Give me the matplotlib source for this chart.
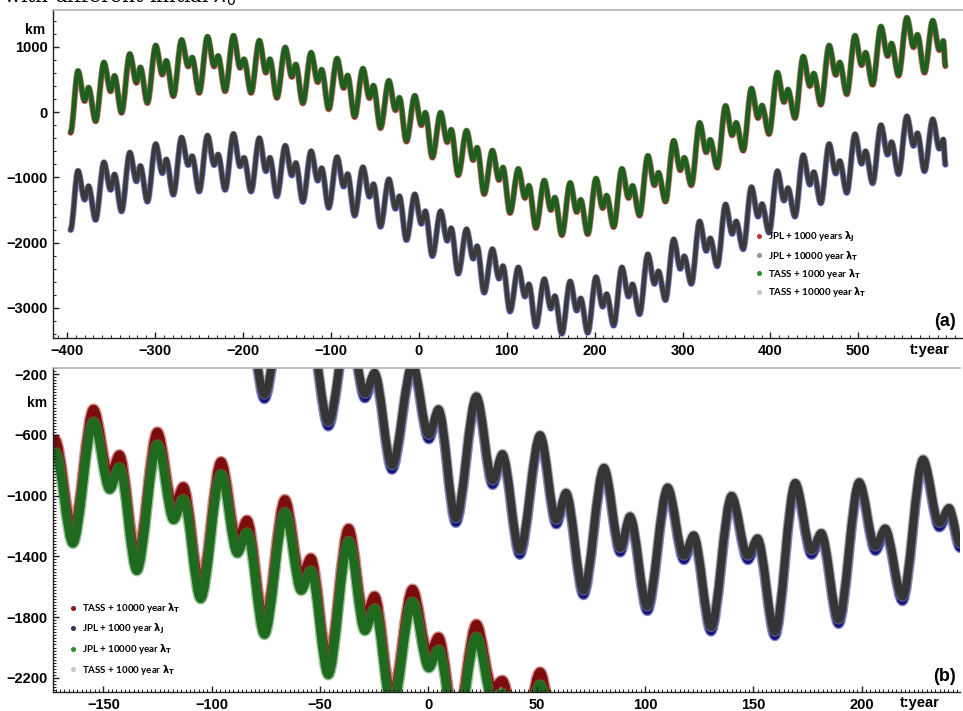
import numpy as np
import matplotlib.pyplot as plt
from matplotlib.lines import Line2D
from matplotlib.patches import PathPatch
from matplotlib.path import Path
from matplotlib.ticker import MultipleLocator

# Each ~29.5 yr cycle: main peak, shallow dip, small bump, deep low
# (years after the main peak)
phase_offsets = [0.0, 7.5, 12.0, 20.0]

# ---------------- panel (a): -400 .. 600 yr ----------------
top_peak_t = [-387.5, -358.0, -328.6, -299.1, -269.7, -240.2, -210.7, -181.3,
              -151.8, -122.4, -92.9, -63.5, -34.0, -4.5, 24.9, 54.4, 83.8,
              113.3, 142.8, 172.2, 201.7, 231.1, 260.6, 290.0, 319.5, 349.0,
              378.4, 407.9, 437.3, 466.8, 496.2, 525.7, 555.2, 584.6]

# TASS + 1000 yr (green band, the JPL run sits right under it)
a_green_peak = [640, 770, 900, 1030, 1115, 1165, 1180, 1105, 1000, 920, 830,
                675, 490, 260, 0, -275, -580, -860, -1040, -1075, -1010, -860,
                -660, -430, -155, 105, 370, 615, 860, 1030, 1180, 1320, 1455,
                1410]
a_green_dip = [185, 335, 465, 590, 715, 715, 695, 620, 555, 475, 385, 230, 45,
               -185, -445, -720, -1025, -1300, -1485, -1515, -1455, -1300,
               -1105, -875, -600, -340, -75, 170, 415, 585, 735, 875, 1010, 965]
a_green_bump = [385, 565, 695, 795, 845, 870, 820, 820, 740, 660, 570, 415, 230,
                0, -260, -535, -840, -1120, -1300, -1335, -1270, -1120, -920,
                -690, -415, -155, 110, 355, 600, 770, 920, 1060, 1195, 1100]
a_green_low = [-125, 5, 155, 260, 310, 335, 310, 235, 150, 60, -60, -230, -435,
               -680, -950, -1240, -1530, -1760, -1870, -1855, -1745, -1570,
               -1355, -1105, -835, -575, -320, -75, 130, 290, 435, 575, 620]
a_green_start = (-396, -300)
a_green_end = (599, 720)

# TASS + 10000 yr (grey band, JPL run in blue under it)
a_grey_peak = [-890, -760, -610, -480, -380, -350, -325, -390, -505, -590, -680,
               -835, -1020, -1250, -1510, -1785, -2090, -2370, -2550, -2585,
               -2520, -2370, -2170, -1940, -1665, -1405, -1140, -895, -650,
               -480, -330, -190, -55, -100]
a_grey_dip = [-1325, -1175, -1045, -920, -795, -795, -815, -890, -955, -1035,
              -1125, -1280, -1465, -1695, -1955, -2230, -2535, -2810, -2995,
              -3025, -2965, -2810, -2615, -2385, -2110, -1850, -1585, -1340,
              -1095, -925, -775, -635, -500, -545]
a_grey_bump = [-1125, -945, -815, -715, -665, -640, -690, -690, -770, -850,
               -940, -1095, -1280, -1510, -1770, -2045, -2350, -2630, -2810,
               -2845, -2780, -2630, -2430, -2200, -1925, -1665, -1400, -1155,
               -910, -740, -590, -450, -315, -410]
a_grey_low = [-1635, -1505, -1355, -1250, -1200, -1175, -1200, -1275, -1360,
              -1450, -1570, -1740, -1945, -2190, -2460, -2750, -3040, -3270,
              -3380, -3365, -3255, -3080, -2865, -2615, -2345, -2085, -1830,
              -1585, -1380, -1220, -1075, -935, -890]
a_grey_start = (-396, -1790)
a_grey_end = (599, -790)

# ---------------- panel (b): -170 .. 245 yr ----------------
bot_peak_t = [-154.6, -125.1, -95.7, -66.2, -36.8, -7.3, 22.2, 51.6, 81.1,
              110.5, 140.0, 169.4, 198.9, 228.4]

b_green_peak = [-515, -665, -860, -1110, -1300, -1700, -1930, -2245]
b_green_dip = [-960, -1160, -1380, -1625, -1890, -2135, -2350, -2700]
b_green_bump = [-815, -1025, -1245, -1495, -1745, -2015, -2300, -2600]
b_green_low = [-1495, -1680, -1915, -2180, -2410, -2600, -2800, -3100]
b_green_head = [(-172.3, -715), (-164.1, -1315)]

# grey band starts with the cycle peaking at -96 yr
b_grey_peak = [600, 350, 150, -130, -345, -600, -815, -945, -1000, -915, -910,
               -760]
b_grey_dip = [150, -40, -330, -600, -900, -1160, -1345, -1395, -1395, -1360,
              -1335, -1180]
b_grey_bump = [250, 60, -190, -430, -725, -980, -1135, -1260, -1280, -1245,
               -1215, -1080]
b_grey_low = [-335, -515, -800, -1150, -1360, -1625, -1730, -1865, -1895,
              -1815, -1665]
b_grey_end = (245.5, -1315)

# offsets of the companion runs (km)
a_jpl_shift = -14
b_red_gap = 85
b_blue_shift = -30


def build_trace(peak_t, peak, dip, bump, low, head=(), tail=()):
    t, y = [], []
    for p in head:
        t.append(p[0]); y.append(p[1])
    for k in range(len(peak)):
        vals = [peak[k], dip[k], bump[k], low[k] if k < len(low) else None]
        for off, v in zip(phase_offsets, vals):
            if v is None:
                continue
            t.append(peak_t[k] + off); y.append(v)
    for p in tail:
        t.append(p[0]); y.append(p[1])
    return np.array(t), np.array(y)


def smooth_path(t, y):
    # bezier segments with flat tangents at every turning point
    verts = [(t[0], y[0])]
    codes = [Path.MOVETO]
    for i in range(1, len(t)):
        dt = t[i] - t[i - 1]
        verts += [(t[i - 1] + dt / 3, y[i - 1]), (t[i] - dt / 3, y[i]),
                  (t[i], y[i])]
        codes += [Path.CURVE4] * 3
    return Path(verts, codes)


def band(ax, t, y, core, halo, lw):
    path = smooth_path(t, y)
    for c, w, a in ((halo, lw * 1.35, 0.55), (core, lw, 1.0)):
        ax.add_patch(PathPatch(path, fill=False, edgecolor=c, lw=w, alpha=a,
                               joinstyle='round', capstyle='round'))


plt.rcParams['font.family'] = ['Liberation Sans', 'DejaVu Sans']

fig = plt.figure(figsize=(9.63, 7.11), dpi=100)
ax1 = fig.add_axes([0.055, 0.5246, 0.945, 0.4614])
ax2 = fig.add_axes([0.055, 0.0267, 0.942, 0.4557])

# panel (a)
tg, yg = build_trace(top_peak_t, a_green_peak, a_green_dip, a_green_bump,
                     a_green_low, [a_green_start], [a_green_end])
tk, yk = build_trace(top_peak_t, a_grey_peak, a_grey_dip, a_grey_bump,
                     a_grey_low, [a_grey_start], [a_grey_end])
band(ax1, tg, yg + a_jpl_shift, '#7a1010', '#a03030', 3.4)
band(ax1, tg, yg, '#1d5f1d', '#3c8a3c', 2.8)
band(ax1, tk, yk + a_jpl_shift, '#1a1a80', '#3a3aa0', 3.4)
band(ax1, tk, yk, '#3a3a3a', '#808080', 2.8)

ax1.set_xlim(-416, 619)
ax1.set_ylim(-3460, 1567)
ax1.set_xticks(list(range(-400, 600, 100)))
ax1.xaxis.set_minor_locator(MultipleLocator(10))
ax1.yaxis.set_major_locator(MultipleLocator(1000))
ax1.yaxis.set_minor_locator(MultipleLocator(200))

# panel (b)
tg2, yg2 = build_trace(bot_peak_t, b_green_peak, b_green_dip, b_green_bump,
                       b_green_low, b_green_head)
tk2, yk2 = build_trace(bot_peak_t[2:], b_grey_peak, b_grey_dip, b_grey_bump,
                       b_grey_low, (), [b_grey_end])
band(ax2, tg2, yg2 + b_red_gap, '#7d0c0c', '#a83030', 6.0)
band(ax2, tg2, yg2, '#1e6a1e', '#3f8f3f', 6.0)
band(ax2, tk2, yk2 + b_blue_shift, '#141478', '#2a2a9a', 5.5)
band(ax2, tk2, yk2, '#353535', '#8a8a8a', 5.5)

ax2.set_xlim(-173.3, 245.5)
ax2.set_ylim(-2293, -160)
ax2.set_xticks(list(range(-150, 250, 50)))
ax2.xaxis.set_minor_locator(MultipleLocator(2))
ax2.set_yticks(list(range(-2200, 0, 400)))
ax2.yaxis.set_minor_locator(MultipleLocator(20))

for ax in (ax1, ax2):
    ax.spines['right'].set_visible(False)
    ax.spines['top'].set_color('#b4b4b4')
    ax.spines['top'].set_linewidth(1.2)
    for s in ('left', 'bottom'):
        ax.spines[s].set_color('#202020')
        ax.spines[s].set_linewidth(1.0)
    ax.tick_params(which='both', direction='in', top=False, right=False,
                   color='#202020')
    ax.tick_params(which='major', length=4.5, width=1.0, labelsize=10.5, pad=4)
    ax.tick_params(which='minor', length=2.0, width=0.7)
    for lab in ax.get_xticklabels() + ax.get_yticklabels():
        lab.set_fontweight('bold')

ax1.text(-0.02, 0.94, 'km', transform=ax1.transAxes, ha='center',
         va='center', fontsize=10, fontweight='bold')
ax2.text(-0.018, 0.892, 'km', transform=ax2.transAxes, ha='center',
         va='center', fontsize=10, fontweight='bold')
ax1.text(0.964, -0.037, 't:year', transform=ax1.transAxes, ha='center',
         va='center', fontsize=10.5, fontweight='bold')
ax2.text(0.956, -0.035, 't:year', transform=ax2.transAxes, ha='center',
         va='center', fontsize=10.5, fontweight='bold')
ax1.text(0.98, 0.05, '(a)', transform=ax1.transAxes, ha='center',
         va='center', fontsize=13, fontweight='bold')
ax2.text(0.983, 0.047, '(b)', transform=ax2.transAxes, ha='center',
         va='center', fontsize=13, fontweight='bold')

# clipped heading line above the panels
fig.text(0.003, 0.9885, r'with different initial $\lambda_0$',
         ha='left', va='bottom', fontsize=14.5, family='DejaVu Serif')


def marker(c):
    return Line2D([], [], ls='', marker='o', ms=2.6, color=c, mec=c)


lab_a = [r'JPL + 1000 years $\mathbf{\lambda_J}$',
         r'JPL + 10000 year $\mathbf{\lambda_T}$',
         r'TASS + 1000 year $\mathbf{\lambda_T}$',
         r'TASS + 10000 year $\mathbf{\lambda_T}$']
col_a = ['#c03838', '#8a9a8a', '#2e8b2e', '#c8c8c8']
lab_b = [r'TASS + 10000 year $\mathbf{\lambda_T}$',
         r'JPL + 1000 year $\mathbf{\lambda_J}$',
         r'JPL + 10000 year $\mathbf{\lambda_T}$',
         r'TASS + 1000 year $\mathbf{\lambda_T}$']
col_b = ['#8b1a1a', '#333355', '#2e8b2e', '#c8c8c8']

leg_kw = dict(frameon=False, loc='upper left', borderpad=0, handlelength=0.8,
              handletextpad=0.5, borderaxespad=0,
              prop=dict(family='Lato', weight='bold', size=7))
leg1 = ax1.legend([marker(c) for c in col_a], lab_a, labelspacing=0.45,
                  bbox_to_anchor=(0.772, 0.33), **leg_kw)
leg2 = ax2.legend([marker(c) for c in col_b], lab_b, labelspacing=0.65,
                  bbox_to_anchor=(0.018, 0.28), **leg_kw)

fig.savefig('out.png', dpi=100)
